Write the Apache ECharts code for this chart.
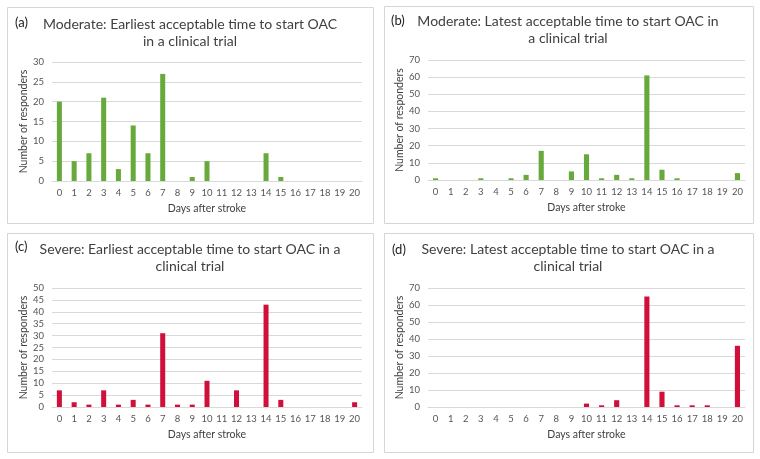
<!DOCTYPE html>
<html>
<head>
<meta charset="utf-8">
<script src="https://cdn.jsdelivr.net/npm/echarts@6/dist/echarts.min.js"></script>
<style>
    html, body { margin: 0; padding: 0; background: #fff; }
    #chart { width: 760px; height: 459px; }
</style>
</head>
<body>
<div id="chart"></div>
<script>
    // days 0..20
    const days = ['0','1','2','3','4','5','6','7','8','9','10','11','12','13','14','15','16','17','18','19','20'];

    const moderateEarliest = [20, 5, 7, 21, 3, 14, 7, 27, 0, 1, 5, 0, 0, 0, 7, 1, 0, 0, 0, 0, 0];
    const moderateLatest = [1, 0, 0, 1, 0, 1, 3, 17, 0, 5, 15, 1, 3, 1, 61, 6, 1, 0, 0, 0, 4];
    const severeEarliest = [7, 2, 1, 7, 1, 3, 1, 31, 1, 1, 11, 0, 7, 0, 43, 3, 0, 0, 0, 0, 2];
    const severeLatest = [0, 0, 0, 0, 0, 0, 0, 0, 0, 0, 2, 1, 4, 0, 65, 9, 1, 1, 1, 0, 36];

    const panelTitles = [
        'Moderate: Earliest acceptable time to start OAC\nin a clinical trial',
        'Moderate: Latest acceptable time to start OAC in\na clinical trial',
        'Severe: Earliest acceptable time to start OAC in a\nclinical trial',
        'Severe: Latest acceptable time to start OAC in a\nclinical trial'
    ];
    const panelTags = ['(a)', '(b)', '(c)', '(d)'];
    const yMax = [30, 70, 50, 70];
    const yStep = [5, 10, 5, 10];

    const GREEN = '#67a93a';
    const RED = '#d0103a';
    const FONT = 'Lato, "Open Sans", sans-serif';

    const seriesData = [moderateEarliest, moderateLatest, severeEarliest, severeLatest];
    const colors = [GREEN, GREEN, RED, RED];

    // panel boxes and plot areas
    const boxes = [
        {x: 7, y: 7, w: 366, h: 216},
        {x: 384, y: 6, w: 369, h: 217},
        {x: 7, y: 233, w: 366, h: 219},
        {x: 384, y: 233, w: 369, h: 219}
    ];
    const grids = [
        {left: 52, right: 398, top: 62, bottom: 278},
        {left: 428, right: 15, top: 60, bottom: 279},
        {left: 52, right: 398, top: 288, bottom: 52},
        {left: 428, right: 15, top: 288, bottom: 52}
    ];
    const titlePos = [
        {x: 190, y: 16}, {x: 568, y: 13}, {x: 190, y: 241}, {x: 568, y: 241}
    ];
    const tagPos = [
        {x: 15, y: 16}, {x: 391, y: 14}, {x: 15, y: 240}, {x: 392, y: 243}
    ];

    const chart = echarts.init(document.getElementById('chart'));

    const title = [];
    const xAxis = [];
    const yAxis = [];
    const series = [];
    const graphic = [];

    for (let i = 0; i < 4; i++) {
        graphic.push({
            type: 'rect',
            shape: {x: boxes[i].x + 0.5, y: boxes[i].y + 0.5, width: boxes[i].w, height: boxes[i].h},
            style: {fill: 'none', stroke: '#d6d6d6', lineWidth: 1}
        });
        title.push({
            text: panelTitles[i],
            left: titlePos[i].x,
            top: titlePos[i].y,
            padding: 0,
            textAlign: 'center',
            textStyle: {fontFamily: FONT, fontSize: 14, fontWeight: 'normal', color: '#404040', lineHeight: 17}
        });
        title.push({
            text: panelTags[i],
            left: tagPos[i].x,
            top: tagPos[i].y,
            padding: 0,
            textStyle: {fontFamily: FONT, fontSize: 13, fontWeight: 'normal', color: '#222'}
        });
        xAxis.push({
            type: 'category',
            gridIndex: i,
            data: days,
            name: 'Days after stroke',
            nameLocation: 'middle',
            nameGap: 22,
            nameTextStyle: {fontFamily: FONT, fontSize: 10.5, color: '#404040'},
            axisTick: {show: false},
            axisLine: {lineStyle: {color: '#d9d9d9'}},
            axisLabel: {fontFamily: FONT, fontSize: 9.5, color: '#555', margin: 7, interval: 0}
        });
        yAxis.push({
            type: 'value',
            gridIndex: i,
            min: 0,
            max: yMax[i],
            interval: yStep[i],
            name: 'Number of responders',
            nameLocation: 'middle',
            nameGap: 21,
            nameTextStyle: {fontFamily: FONT, fontSize: 10.5, color: '#404040'},
            axisLine: {show: false},
            axisTick: {show: false},
            axisLabel: {fontFamily: FONT, fontSize: 9.5, color: '#555', margin: 8},
            splitLine: {lineStyle: {color: '#d9d9d9'}}
        });
        series.push({
            type: 'bar',
            xAxisIndex: i,
            yAxisIndex: i,
            data: seriesData[i],
            barWidth: '34%',
            itemStyle: {color: colors[i]},
            silent: true
        });
    }

    chart.setOption({
        animation: false,
        title: title,
        grid: grids,
        xAxis: xAxis,
        yAxis: yAxis,
        series: series,
        graphic: graphic
    });
</script>
</body>
</html>
